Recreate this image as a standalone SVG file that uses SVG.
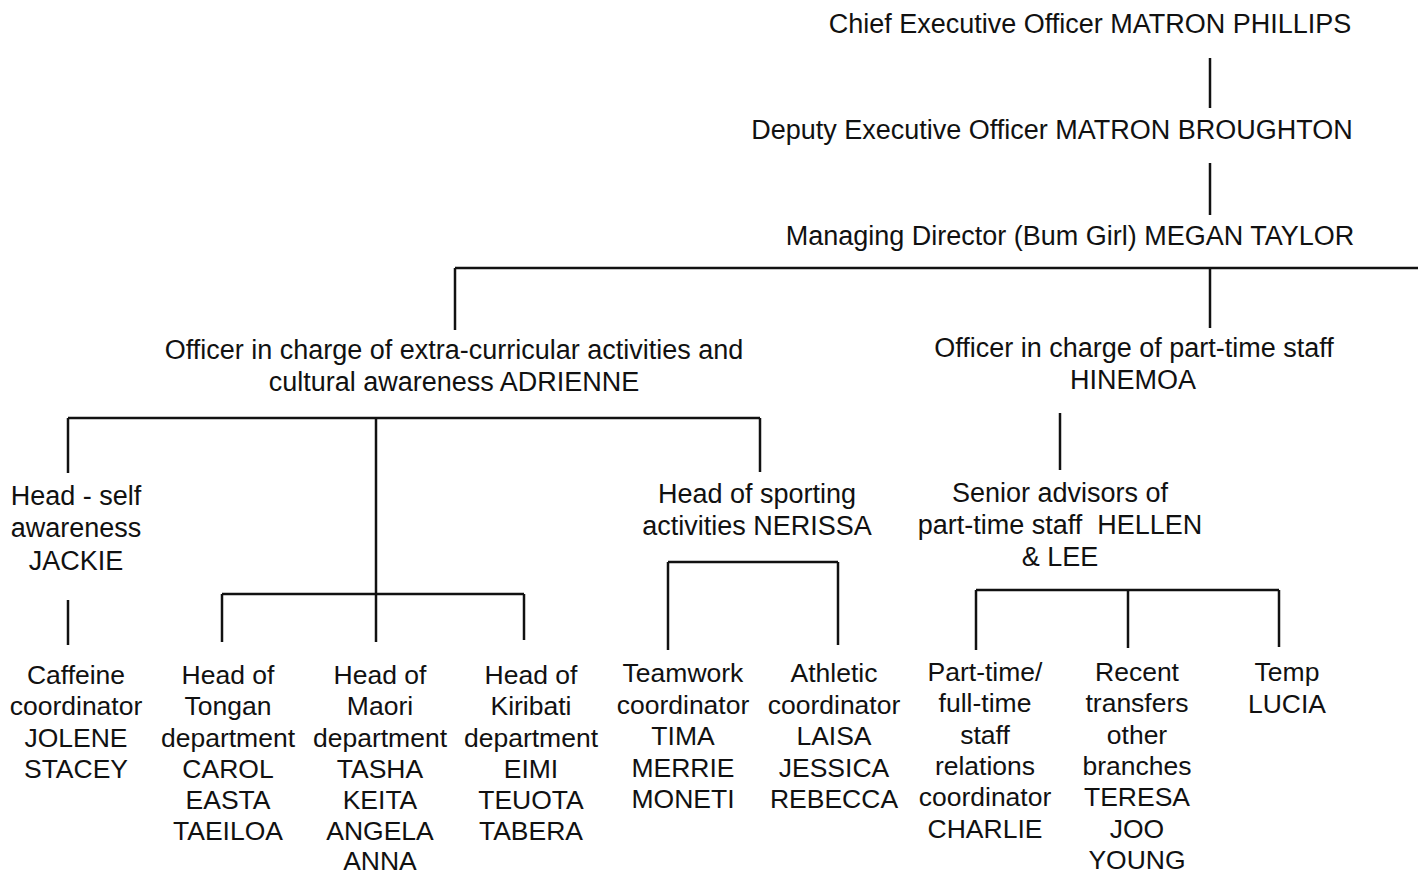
<svg xmlns="http://www.w3.org/2000/svg" width="1428" height="876" viewBox="0 0 1428 876">
<style>
text{font-family:"Liberation Sans",Arial,sans-serif;font-size:27px;fill:#111;text-anchor:middle}
.b text{font-size:26.5px}
.c line{stroke:#111;stroke-width:2.5;fill:none}
</style>
<rect width="1428" height="876" fill="#fff"/>
<g class="c" id="connectors">
<line x1="1210" y1="58" x2="1210" y2="108"/>
<line x1="1210" y1="163" x2="1210" y2="215"/>
<line x1="455" y1="268" x2="1418" y2="268"/>
<line x1="455" y1="268" x2="455" y2="330"/>
<line x1="1210" y1="268" x2="1210" y2="328"/>
<line x1="68" y1="418" x2="760" y2="418"/>
<line x1="68" y1="418" x2="68" y2="473"/>
<line x1="376" y1="418" x2="376" y2="642"/>
<line x1="760" y1="418" x2="760" y2="472"/>
<line x1="1060" y1="413" x2="1060" y2="470"/>
<line x1="68" y1="600" x2="68" y2="645"/>
<line x1="222" y1="594" x2="524" y2="594"/>
<line x1="222" y1="594" x2="222" y2="642"/>
<line x1="524" y1="594" x2="524" y2="640"/>
<line x1="668" y1="562" x2="838" y2="562"/>
<line x1="668" y1="562" x2="668" y2="650"/>
<line x1="838" y1="562" x2="838" y2="645"/>
<line x1="976" y1="590" x2="1279" y2="590"/>
<line x1="976" y1="590" x2="976" y2="650"/>
<line x1="1128" y1="590" x2="1128" y2="648"/>
<line x1="1279" y1="590" x2="1279" y2="647"/>
</g>
<g id="ceo"><text x="1090" y="33">Chief Executive Officer MATRON PHILLIPS</text></g>
<g id="deputy"><text x="1052" y="139">Deputy Executive Officer MATRON BROUGHTON</text></g>
<g id="md"><text x="1070" y="245">Managing Director (Bum Girl) MEGAN TAYLOR</text></g>
<g id="adrienne"><text x="454" y="359">Officer in charge of extra-curricular activities and</text><text x="454" y="391">cultural awareness ADRIENNE</text></g>
<g id="hinemoa"><text x="1134" y="357">Officer in charge of part-time staff</text><text x="1133" y="389">HINEMOA</text></g>
<g id="jackie"><text x="76" y="505">Head - self</text><text x="76" y="537">awareness</text><text x="76" y="570">JACKIE</text></g>
<g id="nerissa"><text x="757" y="503">Head of sporting</text><text x="757" y="535">activities NERISSA</text></g>
<g id="hellen"><text x="1060" y="502">Senior advisors of</text><text x="1060" y="534" xml:space="preserve">part-time staff  HELLEN</text><text x="1060" y="566">&amp; LEE</text></g>
<g class="b" id="caffeine"><text x="76" y="684">Caffeine</text><text x="76" y="715">coordinator</text><text x="76" y="747">JOLENE</text><text x="76" y="778">STACEY</text></g>
<g class="b" id="tongan"><text x="228" y="684">Head of</text><text x="228" y="715">Tongan</text><text x="228" y="747">department</text><text x="228" y="778">CAROL</text><text x="228" y="809">EASTA</text><text x="228" y="840">TAEILOA</text></g>
<g class="b" id="maori"><text x="380" y="684">Head of</text><text x="380" y="715">Maori</text><text x="380" y="747">department</text><text x="380" y="778">TASHA</text><text x="380" y="809">KEITA</text><text x="380" y="840">ANGELA</text><text x="380" y="870">ANNA</text></g>
<g class="b" id="kiribati"><text x="531" y="684">Head of</text><text x="531" y="715">Kiribati</text><text x="531" y="747">department</text><text x="531" y="778">EIMI</text><text x="531" y="809">TEUOTA</text><text x="531" y="840">TABERA</text></g>
<g class="b" id="teamwork"><text x="683" y="682">Teamwork</text><text x="683" y="714">coordinator</text><text x="683" y="745">TIMA</text><text x="683" y="777">MERRIE</text><text x="683" y="808">MONETI</text></g>
<g class="b" id="athletic"><text x="834" y="682">Athletic</text><text x="834" y="714">coordinator</text><text x="834" y="745">LAISA</text><text x="834" y="777">JESSICA</text><text x="834" y="808">REBECCA</text></g>
<g class="b" id="parttime"><text x="985" y="681">Part-time/</text><text x="985" y="712">full-time</text><text x="985" y="744">staff</text><text x="985" y="775">relations</text><text x="985" y="806">coordinator</text><text x="985" y="838">CHARLIE</text></g>
<g class="b" id="recent"><text x="1137" y="681">Recent</text><text x="1137" y="712">transfers</text><text x="1137" y="744">other</text><text x="1137" y="775">branches</text><text x="1137" y="806">TERESA</text><text x="1137" y="838">JOO</text><text x="1137" y="869">YOUNG</text></g>
<g class="b" id="temp"><text x="1287" y="681">Temp</text><text x="1287" y="713">LUCIA</text></g>
</svg>
